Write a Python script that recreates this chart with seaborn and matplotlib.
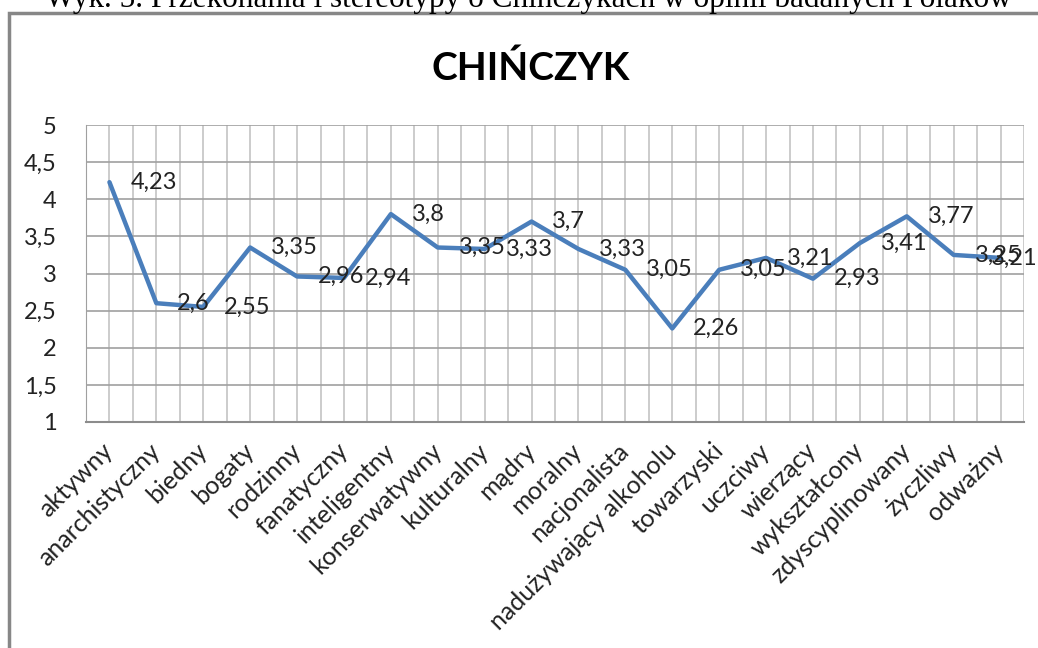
import numpy as np
import pandas as pd
import seaborn as sns
import matplotlib.pyplot as plt
from matplotlib.patches import Rectangle

# Cechy i średnie oceny
cechy = ["aktywny", "anarchistyczny", "biedny", "bogaty", "rodzinny", "fanatyczny",
         "inteligentny", "konserwatywny", "kulturalny", "mądry", "moralny",
         "nacjonalista", "nadużywający alkoholu", "towarzyski", "uczciwy",
         "wierzący", "wykształcony", "zdyscyplinowany", "życzliwy", "odważny"]
oceny = [4.23, 2.6, 2.55, 3.35, 2.96, 2.94, 3.8, 3.35, 3.33, 3.7, 3.33,
         3.05, 2.26, 3.05, 3.21, 2.93, 3.41, 3.77, 3.25, 3.21]
y_ticks = [1, 1.5, 2, 2.5, 3, 3.5, 4, 4.5, 5]

df = pd.DataFrame({"cecha": cechy, "ocena": oceny})

sns.set_style("white")
plt.rcParams['font.family'] = ['Lato', 'DejaVu Sans']

W, H = 1038, 648
fig = plt.figure(figsize=(W / 100, H / 100), dpi=100)
ax = fig.add_axes([86 / W, 1 - 422 / H, (1024 - 86) / W, (422 - 125) / H])

sns.lineplot(data=df, x="cecha", y="ocena", sort=False, color="#4a7ebb",
             linewidth=3.2, ax=ax, zorder=3)

n = len(cechy)
ax.set_xlim(-0.5, n - 0.5)
ax.set_ylim(1, 5)
ax.set_xlabel("")
ax.set_ylabel("")

# osie w stylu Excela
ax.set_xticks(range(n))
ax.set_xticklabels(cechy, rotation=45, ha="right", va="center",
                   rotation_mode="anchor", fontsize=18, color="#222222")
ax.set_xticks(np.arange(-0.5, n, 1), minor=True)
ax.tick_params(axis="x", which="major", length=0, pad=18)
ax.tick_params(axis="x", which="minor", length=7, width=1.2, color="#8c8c8c")
ax.set_yticks(y_ticks)
ax.set_yticklabels([f"{v:g}".replace(".", ",") for v in y_ticks],
                   fontsize=17, color="#222222")
ax.tick_params(axis="y", length=9, width=1.2, color="#a0a0a0", pad=12)

ax.grid(axis="x", which="both", color="#c4c4c4", linewidth=1.2)
ax.grid(axis="y", which="major", color="#a0a0a0", linewidth=1.2)
ax.set_axisbelow(True)
for s in ["top", "right"]:
    ax.spines[s].set_visible(False)
ax.spines["left"].set_color("#a0a0a0")
ax.spines["bottom"].set_color("#8c8c8c")
ax.spines["bottom"].set_linewidth(1.5)

# etykiety danych po prawej stronie punktów (ostatnia przesunięta w lewo, jak w Excelu)
for i, v in enumerate(oceny):
    dx = 15 if i < n - 1 else -7
    ax.annotate(f"{v:g}".replace(".", ","), (i, v), xytext=(dx, 0),
                textcoords="offset points", ha="left", va="center",
                fontsize=17, color="#222222", annotation_clip=False, zorder=4)

fig.text(531 / W, 1 - 80 / H, "CHIŃCZYK", ha="center", va="baseline",
         fontsize=28, fontweight="bold", color="black")

# ramka obszaru wykresu
fig.add_artist(Rectangle((9 / W, -0.2), 1.2, 1.2 - 13 / H, transform=fig.transFigure,
                         fill=False, edgecolor="#878787", linewidth=2.5))

fig.text(45 / W, 1 - 7 / H, "Wyk. 5. Przekonania i stereotypy o Chińczykach w opinii badanych Polaków",
         ha="left", va="baseline", fontsize=22.5, family="Liberation Serif", color="black")

plt.savefig("out.png", dpi=100)
